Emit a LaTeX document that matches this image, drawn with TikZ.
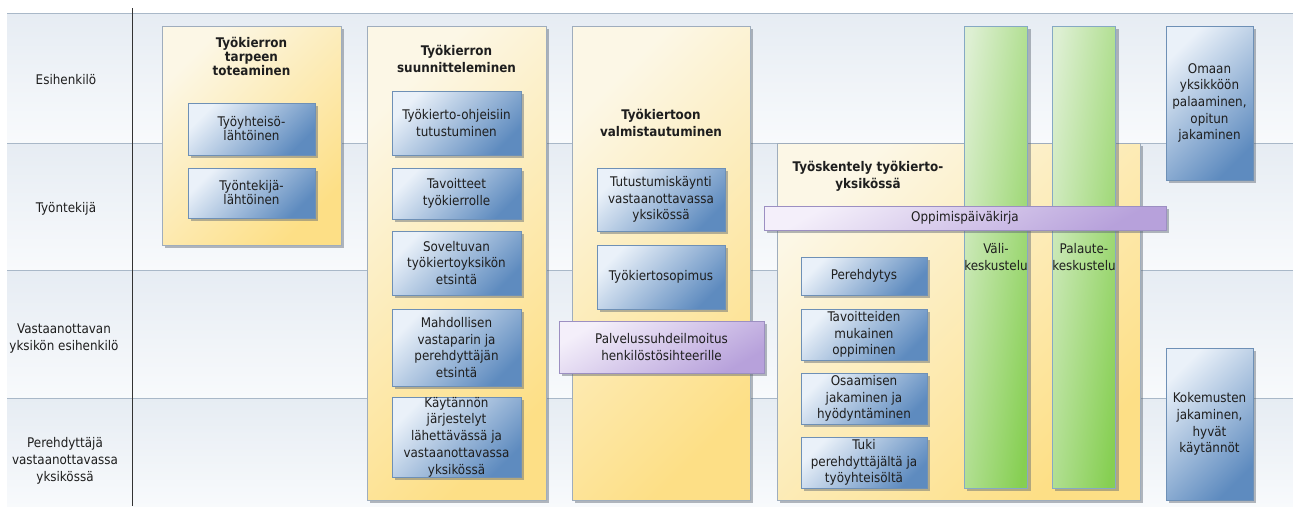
\documentclass[tikz,border=0pt]{standalone}
\usepackage{fontspec}
\setmainfont{DejaVu Sans Condensed}[BoldFont={DejaVu Sans Condensed Bold}]
\usetikzlibrary{shadows}
\definecolor{txt}{HTML}{1E1E1E}
\definecolor{lanetop}{HTML}{E6ECF3}
\definecolor{lanebot}{HTML}{F8FAFC}
\definecolor{laneline}{HTML}{A9B8C8}
\definecolor{ylight}{HTML}{FCF7E6}
\definecolor{ydark}{HTML}{FDDF86}
\definecolor{ybord}{HTML}{9FADBD}
\definecolor{blight}{HTML}{EAF1F9}
\definecolor{bdark}{HTML}{5E8BBF}
\definecolor{bbord}{HTML}{6E90B6}
\definecolor{glight}{HTML}{DDEFD2}
\definecolor{gdark}{HTML}{86CF52}
\definecolor{gbord}{HTML}{86A9C4}
\definecolor{plight}{HTML}{F4EFFA}
\definecolor{pdark}{HTML}{B7A1DB}
\definecolor{pbord}{HTML}{9C8FC2}
\definecolor{shd}{HTML}{5A6470}
\tikzset{
  base/.style={draw, line width=0.6pt, inner sep=0pt, align=center, text=txt,
    font=\fontsize{13.3}{16.7}\selectfont,
    drop shadow={shadow xshift=3pt, shadow yshift=-3pt, opacity=0.45, fill=shd}},
  ybox/.style={base, draw=ybord, top color=ylight, bottom color=ydark, shading angle=45},
  bbox/.style={base, draw=bbord, top color=blight, bottom color=bdark, shading angle=45},
  gbox/.style={base, draw=gbord, top color=glight, bottom color=gdark, shading angle=82},
  pbox/.style={base, draw=pbord, top color=plight, bottom color=pdark, shading angle=30},
  ttl/.style={inner sep=0pt, align=center, text=txt, font=\fontsize{13.3}{16.7}\selectfont\bfseries},
  lanelabel/.style={inner sep=0pt, align=center, text=txt, font=\fontsize{13.3}{16.7}\selectfont},
  laneln/.style={draw=laneline, line width=0.7pt},
}
\begin{document}
\begin{tikzpicture}[x=1pt,y=-1pt]
\clip (0,0) rectangle (1293,506);
\fill[white] (0,0) rectangle (1293,506);
% lanes
\foreach \t/\b in {13/143,143/270,270/398,398/506}
  \shade[top color=lanetop, bottom color=lanebot] (7,\t) rectangle (1293,\b);
\foreach \y in {13,143,270,398}
  \draw[laneln] (7,\y) -- (1293,\y);
\draw[black!80, line width=0.8pt] (132,8) -- (132,506);
% lane labels
\node[lanelabel] (l1) at (66,80) {Esihenkilö};
\node[lanelabel] (l2) at (66,209) {Työntekijä};
\node[lanelabel] (l3) at (64,338.5) {Vastaanottavan\\yksikön esihenkilö};
\node[lanelabel] (l4) at (65,461) {Perehdyttäjä\\vastaanottavassa\\yksikössä};
% phase 1
\node[ybox, minimum width=179pt, minimum height=219pt] (y1) at (251.5,135.5) {};
\node[ttl, anchor=north, font=\fontsize{13.3}{14}\selectfont\bfseries] (t1) at (251.5,37) {Työkierron\\tarpeen\\toteaminen};
\node[bbox, minimum width=127pt, minimum height=52pt, font=\fontsize{13.3}{14}\selectfont] (c1a) at (251.5,129) {Työyhteisö-\\lähtöinen};
\node[bbox, minimum width=127pt, minimum height=50pt, font=\fontsize{13.3}{14}\selectfont] (c1b) at (251.5,193) {Työntekijä-\\lähtöinen};
% phase 2
\node[ybox, minimum width=179pt, minimum height=474pt] (y2) at (456.5,263) {};
\node[ttl, anchor=north] (t2) at (456.5,45) {Työkierron\\suunnitteleminen};
\node[bbox, minimum width=129pt, minimum height=64pt] (c2a) at (456.5,123) {Työkierto-ohjeisiin\\tutustuminen};
\node[bbox, minimum width=129pt, minimum height=51pt] (c2b) at (456.5,193.5) {Tavoitteet\\työkierrolle};
\node[bbox, minimum width=129pt, minimum height=64pt] (c2c) at (456.5,263) {Soveltuvan\\työkiertoyksikön\\etsintä};
\node[bbox, minimum width=129pt, minimum height=77pt] (c2d) at (456.5,347.5) {Mahdollisen\\vastaparin ja\\perehdyttäjän\\etsintä};
\node[bbox, minimum width=129pt, minimum height=78pt] (c2e) at (456.5,437) {Käytännön\\järjestelyt\\lähettävässä ja\\vastaanottavassa\\yksikössä};
% phase 3
\node[ybox, minimum width=178pt, minimum height=474pt] (y3) at (661,263) {};
\node[ttl, anchor=north] (t3) at (661,109) {Työkiertoon\\valmistautuminen};
\node[bbox, minimum width=128pt, minimum height=63pt] (c3a) at (661,199.5) {Tutustumiskäynti\\vastaanottavassa\\yksikössä};
\node[bbox, minimum width=128pt, minimum height=64pt] (c3b) at (661,277) {Työkiertosopimus};
\node[pbox, minimum width=205pt, minimum height=52pt] (p3) at (661.5,347) {Palvelussuhdeilmoitus\\henkilöstösihteerille};
% phase 4
\node[ybox, minimum width=363pt, minimum height=357pt] (y4) at (958.5,321.5) {};
\node[ttl, anchor=north] (t4) at (868,161) {Työskentely työkierto-\\yksikössä};
\node[gbox, minimum width=62pt, minimum height=462pt] (g1) at (996,257) {Väli-\\keskustelu};
\node[gbox, minimum width=62pt, minimum height=462pt] (g2) at (1084,257) {Palaute-\\keskustelu};
\node[pbox, minimum width=402pt, minimum height=24pt] (p4) at (965,218) {Oppimispäiväkirja};
\node[bbox, minimum width=126pt, minimum height=38pt] (c4a) at (864,276) {Perehdytys};
\node[bbox, minimum width=126pt, minimum height=51pt] (c4b) at (864,334.5) {Tavoitteiden\\mukainen\\oppiminen};
\node[bbox, minimum width=126pt, minimum height=51pt] (c4c) at (864,398.5) {Osaamisen\\jakaminen ja\\hyödyntäminen};
\node[bbox, minimum width=126pt, minimum height=51pt] (c4d) at (864,462.5) {Tuki\\perehdyttäjältä ja\\työyhteisöltä};
% phase 5
\node[bbox, minimum width=87pt, minimum height=154pt] (r1) at (1209.5,103) {Omaan\\yksikköön\\palaaminen,\\opitun\\jakaminen};
\node[bbox, minimum width=87pt, minimum height=152pt] (r2) at (1209.5,424) {Kokemusten\\jakaminen,\\hyvät\\käytännöt};
\end{tikzpicture}
\end{document}
